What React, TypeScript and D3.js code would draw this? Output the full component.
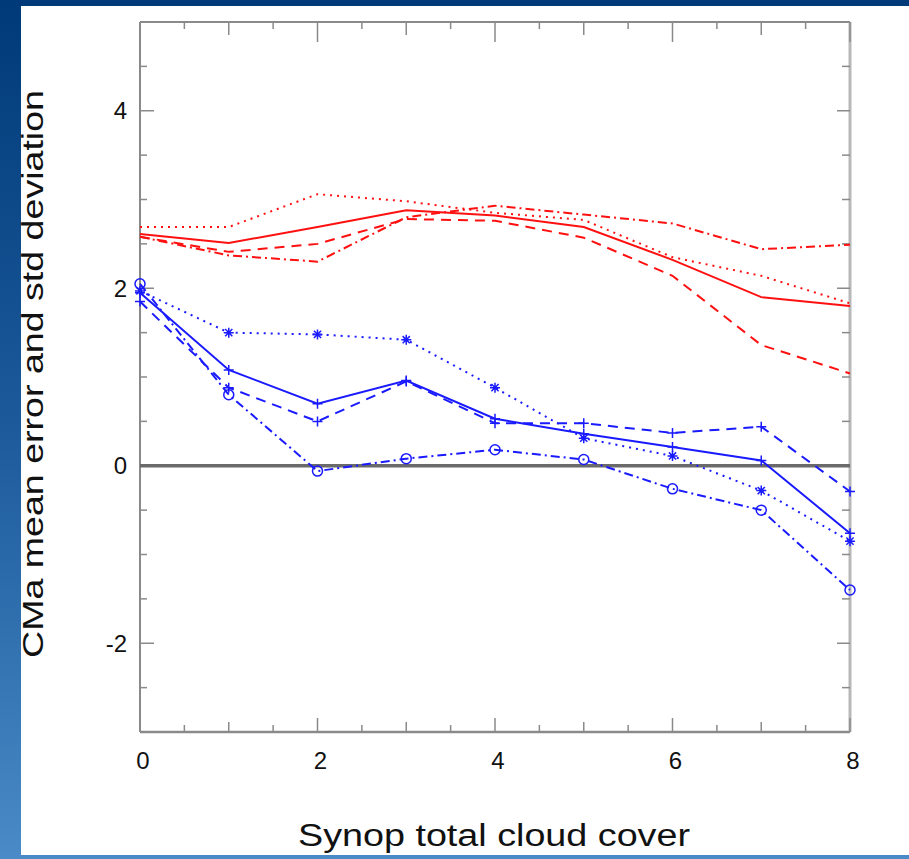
import React from "react";
import * as d3 from "d3";

const cloudCover = [0, 1, 2, 3, 4, 5, 6, 7, 8];
const redSolid = [2.61, 2.51, 2.69, 2.88, 2.82, 2.69, 2.32, 1.9, 1.8];
const redDashed = [2.58, 2.41, 2.5, 2.78, 2.76, 2.57, 2.14, 1.36, 1.04];
const redDashDot = [2.58, 2.37, 2.3, 2.8, 2.93, 2.83, 2.73, 2.44, 2.49];
const redDotted = [2.69, 2.69, 3.06, 2.98, 2.85, 2.77, 2.35, 2.14, 1.83];
const blueSolid = [1.95, 1.08, 0.7, 0.96, 0.53, 0.36, 0.21, 0.06, -0.76];
const blueDashed = [1.85, 0.88, 0.5, 0.95, 0.48, 0.48, 0.37, 0.44, -0.29];
const blueDotted = [1.97, 1.5, 1.48, 1.42, 0.88, 0.31, 0.11, -0.28, -0.85];
const blueDashDot = [2.05, 0.8, -0.06, 0.08, 0.18, 0.07, -0.26, -0.5, -1.4];

const xTickLabels = [0, 2, 4, 6, 8];
const yTickLabels = [4, 2, 0, -2];

const W = 909;
const H = 859;
const RED = "#ff1010";
const BLUE = "#1a1aff";

type Series = { values: number[]; color: string; dash: string; marker: string };

const series: Series[] = [
  { values: redDotted, color: RED, dash: "2,5", marker: "none" },
  { values: redDashDot, color: RED, dash: "9,4,2,4", marker: "none" },
  { values: redDashed, color: RED, dash: "10,7", marker: "none" },
  { values: redSolid, color: RED, dash: "", marker: "none" },
  { values: blueDotted, color: BLUE, dash: "2,5", marker: "star" },
  { values: blueDashDot, color: BLUE, dash: "9,4,2,4", marker: "circle" },
  { values: blueDashed, color: BLUE, dash: "10,7", marker: "plus" },
  { values: blueSolid, color: BLUE, dash: "", marker: "plus" },
];

export default function App() {
  const x = d3.scaleLinear().domain([0, 8]).range([140, 850]);
  const y = d3.scaleLinear().domain([-3, 5]).range([732, 22]);
  const line = d3
    .line<number>()
    .x((_, i) => x(cloudCover[i]))
    .y((d) => y(d));

  const xMinor = d3.range(0, 8.001, 0.5);
  const yMinor = d3.range(-3, 5.001, 0.5);
  const axisColor = "#8a8a8a";

  const marker = (m: string, cx: number, cy: number, color: string, key: string) => {
    const s = 5;
    if (m === "plus")
      return (
        <path key={key} d={`M${cx - s},${cy}H${cx + s}M${cx},${cy - s}V${cy + s}`} stroke={color} strokeWidth={1.5} fill="none" />
      );
    if (m === "star")
      return (
        <path
          key={key}
          d={`M${cx - s},${cy}H${cx + s}M${cx},${cy - s}V${cy + s}M${cx - 3.6},${cy - 3.6}L${cx + 3.6},${cy + 3.6}M${cx - 3.6},${cy + 3.6}L${cx + 3.6},${cy - 3.6}`}
          stroke={color}
          strokeWidth={1.5}
          fill="none"
        />
      );
    if (m === "circle") return <circle key={key} cx={cx} cy={cy} r={5} stroke={color} strokeWidth={1.5} fill="none" />;
    return null;
  };

  return (
    <svg width={W} height={H} style={{ position: "fixed", left: 0, top: 0 }} fontFamily="'Liberation Sans', Arial, sans-serif">
      <defs>
        <linearGradient id="bg" x1="0" y1="0" x2="0" y2="1">
          <stop offset="0" stopColor="#003a78" />
          <stop offset="0.5" stopColor="#1c5a9c" />
          <stop offset="1" stopColor="#4a8ac6" />
        </linearGradient>
      </defs>
      <rect x={0} y={0} width={W} height={H} fill="url(#bg)" />
      <rect x={0} y={0} width={W} height={6} fill="#003a78" />
      <rect x={21} y={6} width={W - 21} height={849} fill="#ffffff" />

      {/* frame */}
      <line x1={x(0)} x2={x(8)} y1={y(5)} y2={y(5)} stroke={axisColor} strokeWidth={2} />
      <line x1={x(0)} x2={x(8)} y1={y(-3)} y2={y(-3)} stroke={axisColor} strokeWidth={2.5} />
      <line x1={x(0)} x2={x(0)} y1={y(5)} y2={y(-3)} stroke={axisColor} strokeWidth={2} />
      <line x1={x(8)} x2={x(8)} y1={y(5)} y2={y(-3)} stroke="#b8b8b8" strokeWidth={3} />

      {/* x ticks */}
      {xMinor.map((v) => {
        const even = Math.abs(v % 2) < 1e-6;
        const odd = !even && Math.abs(v % 1) < 1e-6;
        const lenB = even ? 14 : odd ? 10 : 7;
        const lenT = even ? 20 : odd ? 13 : 7;
        return (
          <g key={`xt${v}`}>
            <line x1={x(v)} x2={x(v)} y1={y(-3)} y2={y(-3) - lenB} stroke={axisColor} strokeWidth={1.5} />
            <line x1={x(v)} x2={x(v)} y1={y(5)} y2={y(5) + lenT} stroke={axisColor} strokeWidth={1.5} />
          </g>
        );
      })}
      {/* y ticks */}
      {yMinor.map((v) => {
        const even = Math.abs(v % 2) < 1e-6;
        const lenL = even ? 14 : 7;
        const lenR = even ? 13 : 8;
        return (
          <g key={`yt${v}`}>
            <line x1={x(0)} x2={x(0) + lenL} y1={y(v)} y2={y(v)} stroke={axisColor} strokeWidth={1.5} />
            <line x1={x(8)} x2={x(8) - lenR} y1={y(v)} y2={y(v)} stroke={axisColor} strokeWidth={1.5} />
          </g>
        );
      })}

      {/* zero line */}
      <line x1={x(0)} x2={x(8)} y1={y(0)} y2={y(0)} stroke="#6a6a6a" strokeWidth={3.5} />

      {/* series */}
      {series.map((s, si) => (
        <g key={`s${si}`}>
          <path d={line(s.values) || ""} fill="none" stroke={s.color} strokeWidth={2} strokeDasharray={s.dash || undefined} />
          {s.values.map((v, i) => marker(s.marker, x(cloudCover[i]), y(v), s.color, `m${si}-${i}`))}
        </g>
      ))}

      {/* tick labels */}
      {xTickLabels.map((v) => (
        <text key={`xl${v}`} x={x(v) + 3} y={769} fontSize={24} textAnchor="middle" fill="#111">
          {v}
        </text>
      ))}
      {yTickLabels.map((v) => (
        <text key={`yl${v}`} x={127} y={y(v) + 8.5} fontSize={24} textAnchor="end" fill="#111">
          {v}
        </text>
      ))}

      {/* axis titles */}
      <text x={494} y={846} fontSize={31} textAnchor="middle" fill="#111" textLength={392} lengthAdjust="spacingAndGlyphs">
        Synop total cloud cover
      </text>
      <text
        transform={`translate(43,374) rotate(-90)`}
        fontSize={29}
        textAnchor="middle"
        fill="#111"
        textLength={568}
        lengthAdjust="spacingAndGlyphs"
      >
        CMa mean error and std deviation
      </text>
    </svg>
  );
}
